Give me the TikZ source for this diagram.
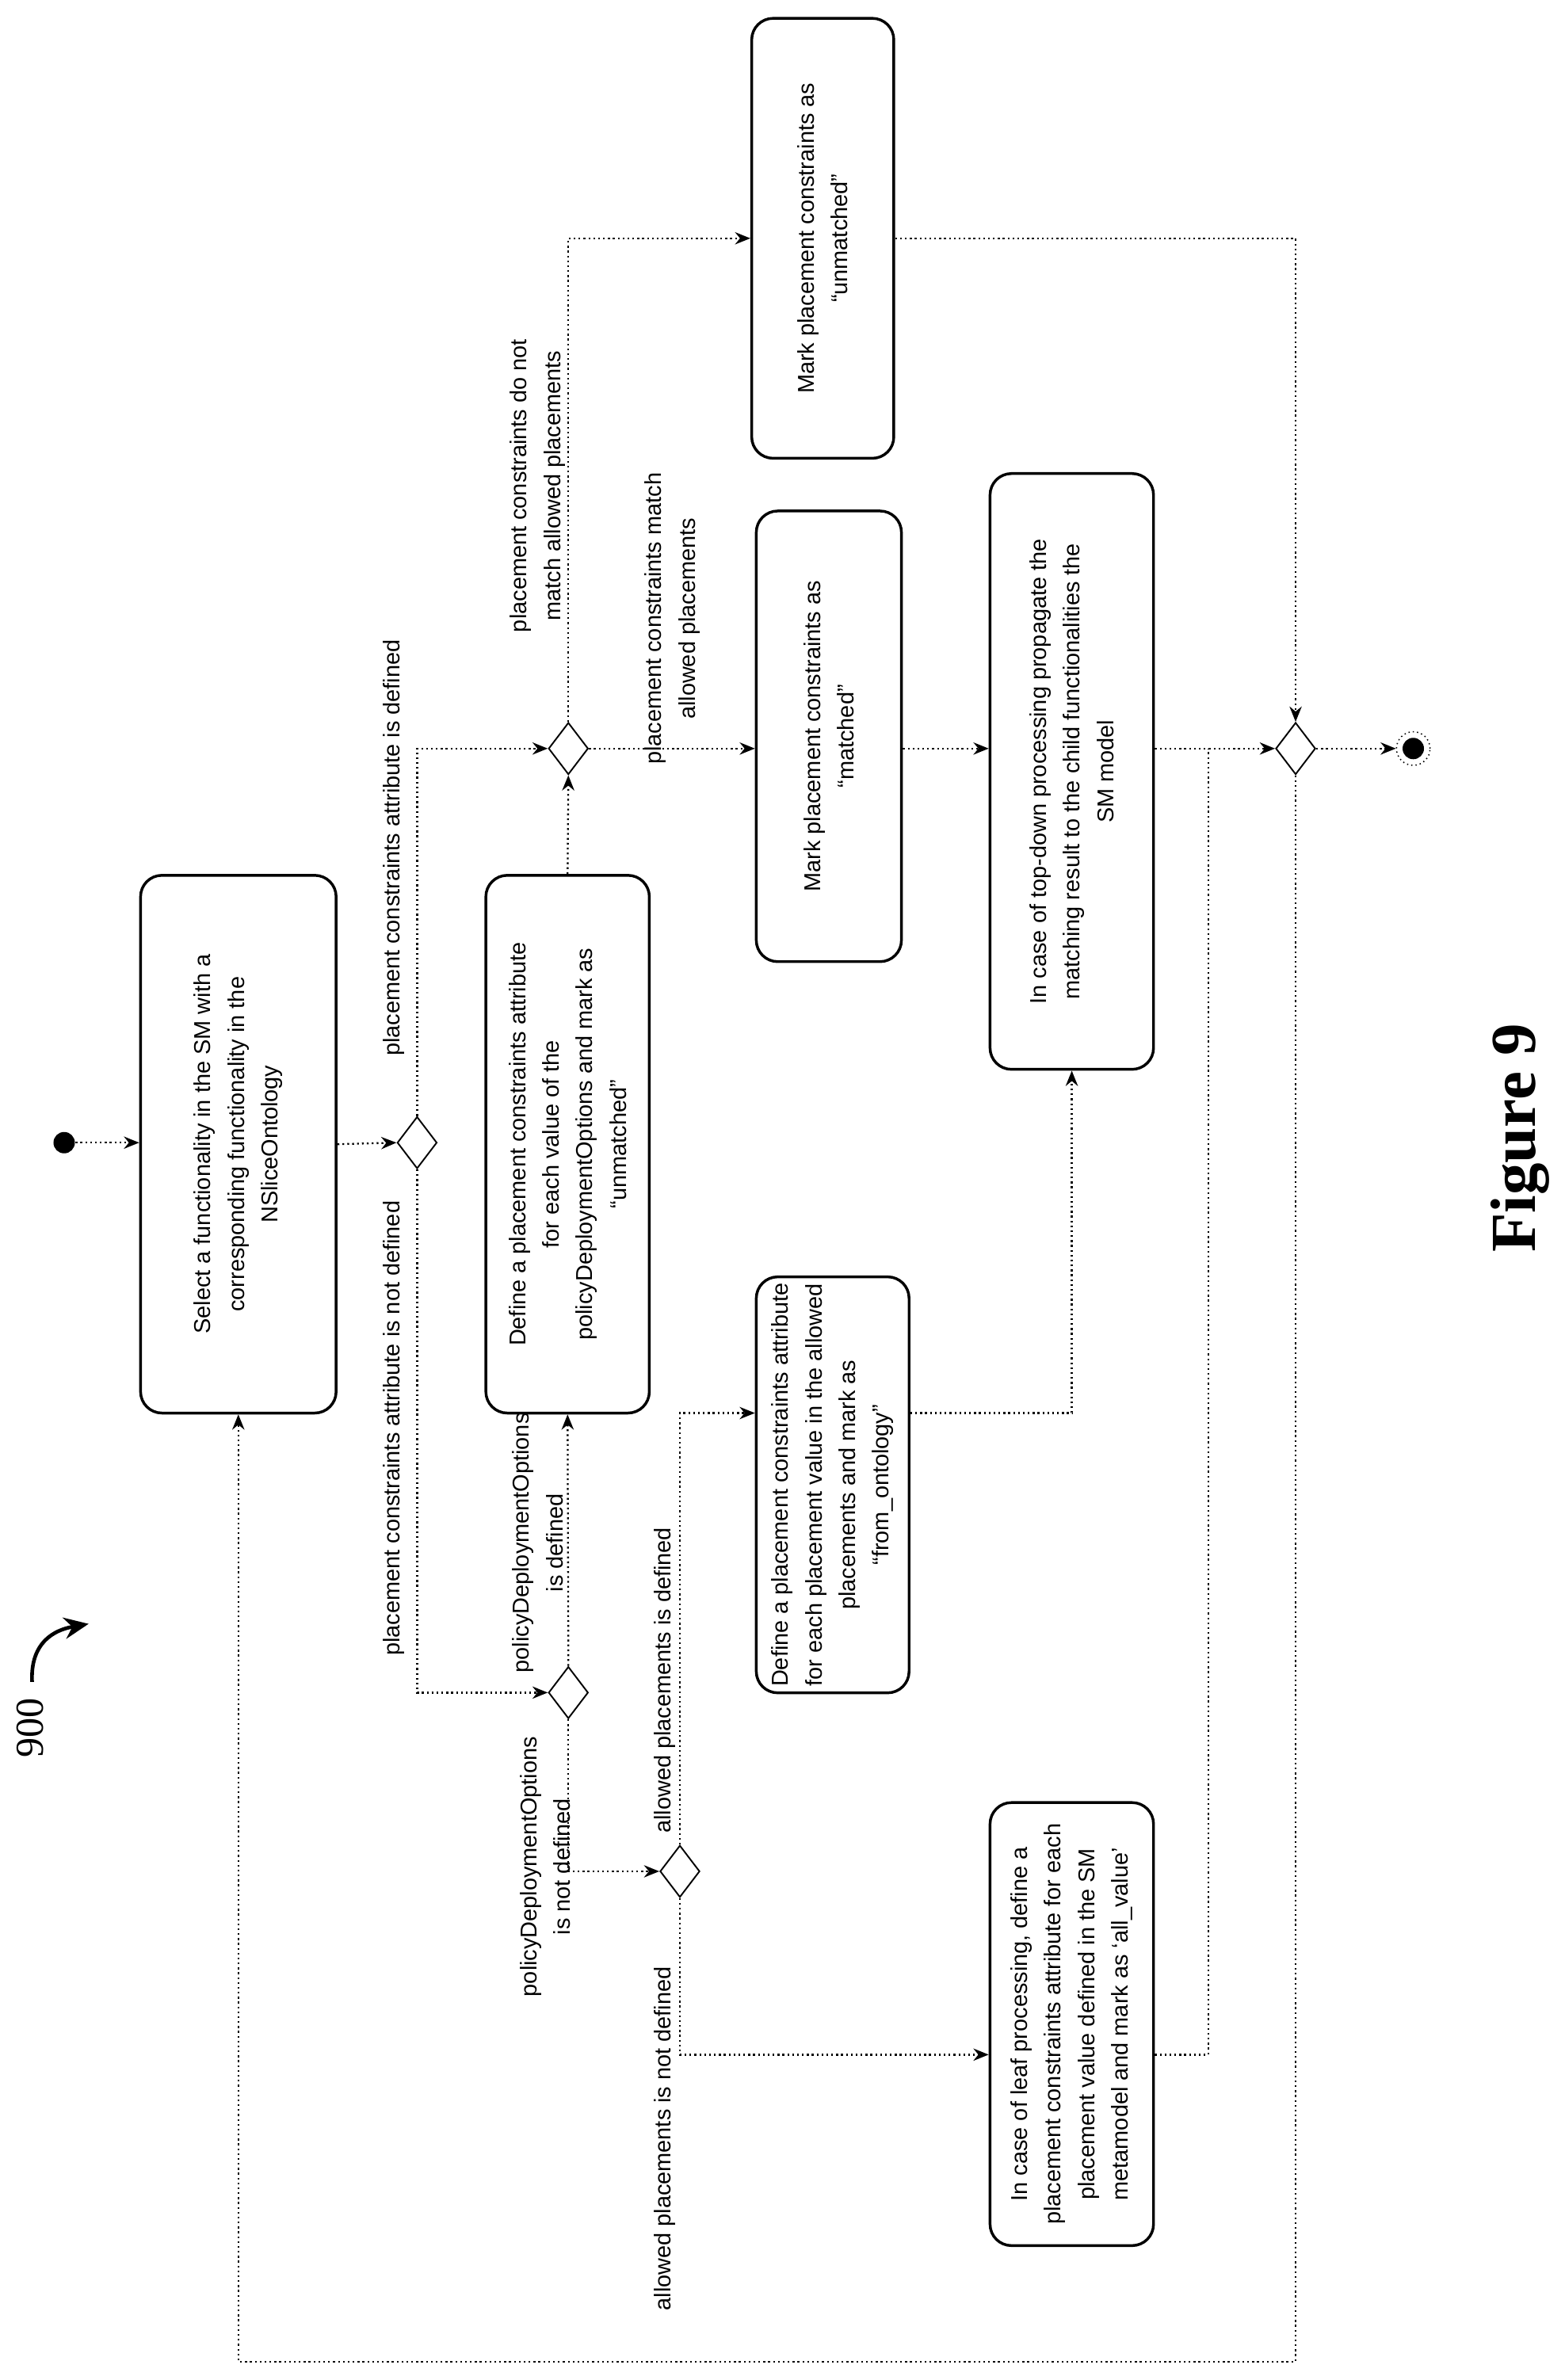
\documentclass[tikz,border=0pt]{standalone}
\usepackage{fontspec}
\setmainfont{Liberation Sans}
\newfontfamily\serifone{Liberation Serif}
\usetikzlibrary{shapes.geometric,arrows.meta,calc}
\begin{document}
\begin{tikzpicture}[x=0.5pt,y=-0.5pt,
  box/.style={draw,line width=0.9pt,rounded corners=7pt,rotate=90,align=center,inner sep=2pt,font=\fontsize{7.5}{11}\selectfont},
  dia/.style={draw,diamond,line width=0.5pt,minimum width=13pt,minimum height=17pt,inner sep=0pt},
  con/.style={densely dotted,line width=0.6pt},
  arr/.style={con,-{Stealth[length=5pt,width=4pt]}},
  lab/.style={rotate=90,align=center,font=\fontsize{7.5}{11}\selectfont}]
\useasboundingbox (0,0) rectangle (1024,1558);
% nodes
\node[circle,fill=black,minimum size=7pt,inner sep=0pt] (start) at (42,748) {};
\node[box,minimum width=176pt,minimum height=64pt] (sel) at (156,749) {Select a functionality in the SM with a\\corresponding functionality in the\\NSliceOntology};
\node[dia] (d1) at (273,748) {};
\node[dia] (d2) at (372,490) {};
\node[dia] (d3) at (372,1108) {};
\node[dia] (d4) at (445,1225) {};
\node[dia] (d5) at (848,490) {};
\node[box,minimum width=176pt,minimum height=53.5pt] (def) at (371.5,749) {Define a placement constraints attribute\\for each value of the\\policyDeploymentOptions and mark as\\``unmatched''};
\node[box,minimum width=127.5pt,minimum height=50pt] (ont) at (545,972) {Define a placement constraints attribute\\for each placement value in the allowed\\placements and mark as\\``from\_ontology''};
\node[box,minimum width=145pt,minimum height=53.5pt] (leaf) at (701.5,1325) {In case of leaf processing, define a\\placement constraints attribute for each\\placement value defined in the SM\\metamodel and mark as `all\_value'};
\node[box,minimum width=147.5pt,minimum height=47.5pt] (match) at (542.5,482) {Mark placement constraints as\\``matched''};
\node[box,minimum width=195pt,minimum height=53.5pt] (top) at (701.5,505) {In case of top-down processing propagate the\\matching result to the child functionalities the\\SM model};
\node[box,minimum width=144pt,minimum height=46.5pt] (unm) at (538.5,156) {Mark placement constraints as\\``unmatched''};
\node[circle,draw,densely dotted,minimum size=11pt,inner sep=0pt] (end) at (925,490) {};
\node[circle,fill=black,minimum size=7pt,inner sep=0pt] at (end) {};
% labels
\node[lab] at (258,555) {placement constraints attribute is defined};
\node[lab] at (258,935) {placement constraints attribute is not defined};
\node[lab] at (352,1010) {policyDeploymentOptions\\is defined};
\node[lab] at (357,1222) {policyDeploymentOptions\\is not defined};
\node[lab] at (435,1100) {allowed placements is defined};
\node[lab] at (435,1400) {allowed placements is not defined};
\node[lab] at (352,318) {placement constraints do not\\match allowed placements};
\node[lab] at (440,405) {placement constraints match\\allowed placements};
\node[rotate=90,font=\serifone\bfseries\fontsize{21}{24}\selectfont] at (995,745) {Figure 9};
\node[rotate=90,font=\serifone\fontsize{13}{15}\selectfont] at (20,1131) {900};
\draw[line width=1.2pt,-{Stealth[length=8pt,width=7pt]}] (21,1101) .. controls (20,1080) and (30,1068) .. (58,1063);
% connectors
\draw[arr] (start) -- (sel.north |- start);
\draw[arr] (sel.south) -- (d1.west);
\draw[arr] (d1.north) |- (d2.west);
\draw[arr] (d1.south) |- (d3.west);
\draw[arr] (d3.north) -- (def.west);
\draw[arr] (def.east) -- (d2.south);
\draw[arr] (d3.south) |- (d4.west);
\draw[arr] (d4.north) |- ($(ont.north)+(0,-47)$);
\draw[arr] (d4.south) |- ($(leaf.north)+(0,20)$);
\draw[arr] ($(ont.south)+(0,-47)$) -| (top.west);
\draw[arr] (d2.east) -- (match.north |- d2);
\draw[arr] (d2.north) |- (unm.north);
\draw[arr] (match.south |- d2) -- (top.north |- d2);
\draw[arr] (top.south |- d2) -- (d5.west);
\draw[con] ($(leaf.south)+(0,20)$) -| ($(top.south |- d2)+(35,0)$);
\draw[arr] (unm.south) -| (d5.north);
\draw[arr] (d5.east) -- (end);
\draw[arr] (d5.south) |- ($(sel.west)+(0,620)$) -- (sel.west);
\end{tikzpicture}
\end{document}
